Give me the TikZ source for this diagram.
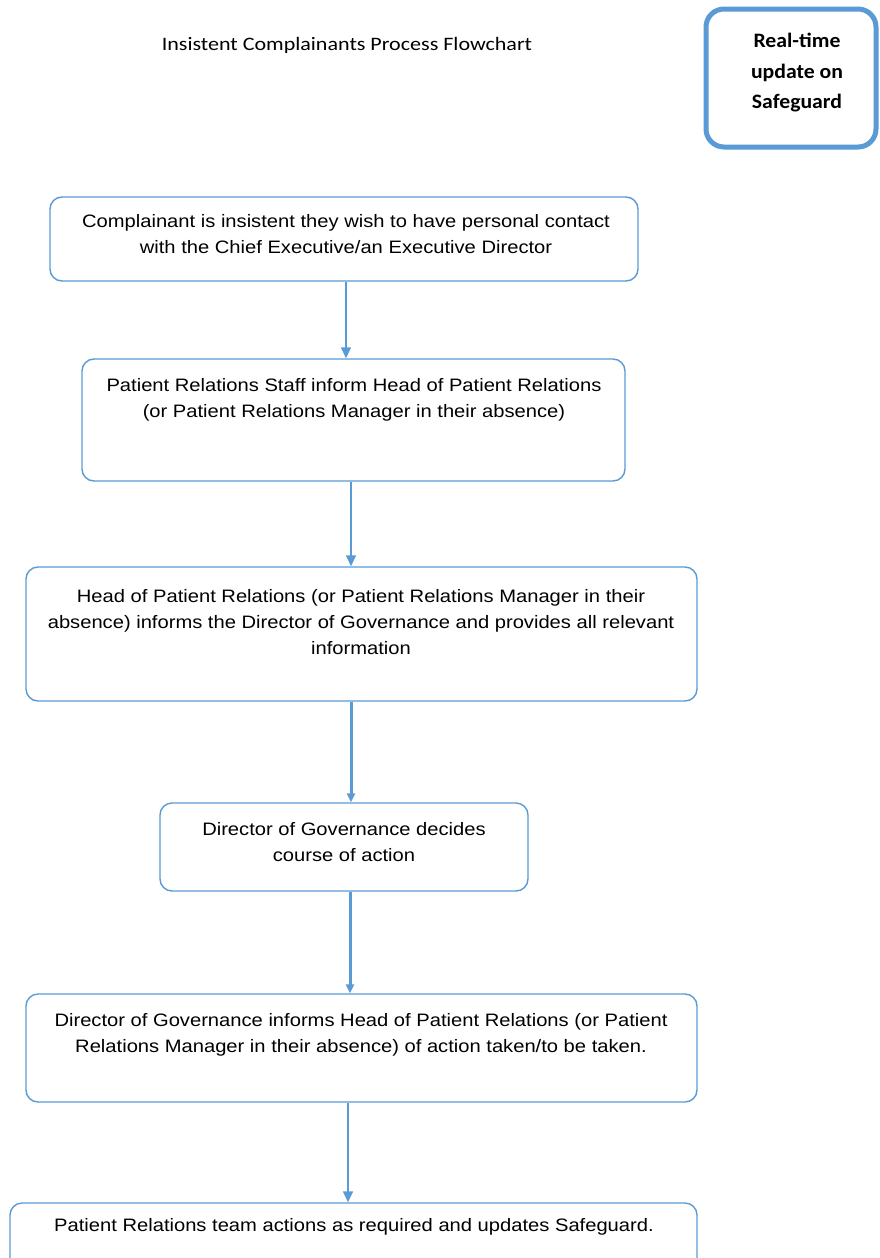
\documentclass[tikz,border=0pt]{standalone}
\usepackage{fontspec}
\setmainfont{Liberation Sans}[FakeStretch=1.12]
\newfontfamily\calfont{Carlito}[FakeStretch=1.16]
\newfontfamily\calboldfont{Carlito}[FakeStretch=1.06]
\usetikzlibrary{arrows.meta}
\definecolor{lineblue}{RGB}{91,155,213}
\begin{document}
\begin{tikzpicture}[x=1pt,y=-1pt,
  box/.style={draw=lineblue,line width=1.4pt,rounded corners=12pt,inner sep=0pt,fill=white},
  txt/.style={inner sep=0pt,align=center,font=\fontsize{18}{26}\selectfont},
  arr/.style={draw=lineblue,line width=1.4pt,-{Triangle[length=11pt,width=10pt]}},
  arrthick/.style={arr,line width=3pt,-{Triangle[length=9pt,width=8pt]}}]
\useasboundingbox (0,0) rectangle (879,1258);
\clip (0,0) rectangle (879,1258);
\fill[white] (0,0) rectangle (879,1258);

\node[inner sep=0pt,font=\calfont\fontsize{19}{22}\selectfont] (title) at (347,45) {Insistent Complainants Process Flowchart};

\node[box,line width=5pt,rounded corners=18pt,minimum width=170pt,minimum height=138pt] (rt) at (791,78) {};
\node[inner sep=0pt,align=center,font=\calboldfont\bfseries\fontsize{20.5}{30.5}\selectfont] (rtt) at (797,73) {Real-time\\update on\\Safeguard};

\node[box,minimum width=588pt,minimum height=84pt] (b1) at (344,239) {};
\node[txt] (t1) at (346,234) {Complainant is insistent they wish to have personal contact\\with the Chief Executive/an Executive Director};

\node[box,minimum width=543pt,minimum height=122pt] (b2) at (353.5,420) {};
\node[txt] (t2) at (354,400) {Patient Relations Staff inform Head of Patient Relations\\(or Patient Relations Manager in their absence)};

\node[box,minimum width=671pt,minimum height=134pt] (b3) at (361.5,634) {};
\node[txt] (t3) at (361,622) {Head of Patient Relations (or Patient Relations Manager in their\\absence) informs the Director of Governance and provides all relevant\\information};

\node[box,minimum width=368pt,minimum height=88pt] (b4) at (344,847) {};
\node[txt] (t4) at (344,842) {Director of Governance decides\\course of action};

\node[box,minimum width=671pt,minimum height=108pt] (b5) at (361.5,1048) {};
\node[txt] (t5) at (361,1034.5) {Director of Governance informs Head of Patient Relations (or Patient\\Relations Manager in their absence) of action taken/to be taken.};

\node[box,minimum width=687pt,minimum height=80pt] (b6) at (353.5,1243) {};
\node[txt] (t6) at (354,1227) {Patient Relations team actions as required and updates Safeguard.};

\coordinate (x1) at (346,0);
\coordinate (x2) at (351,0);
\coordinate (x3) at (351,0);
\coordinate (x4) at (350,0);
\coordinate (x5) at (348,0);
\draw[arr] (b1.south -| x1) -- (b2.north -| x1);
\draw[arr] (b2.south -| x2) -- (b3.north -| x2);
\draw[arrthick] (b3.south -| x3) -- (b4.north -| x3);
\draw[arrthick] (b4.south -| x4) -- (b5.north -| x4);
\draw[arr] (b5.south -| x5) -- (b6.north -| x5);
\end{tikzpicture}
\end{document}
